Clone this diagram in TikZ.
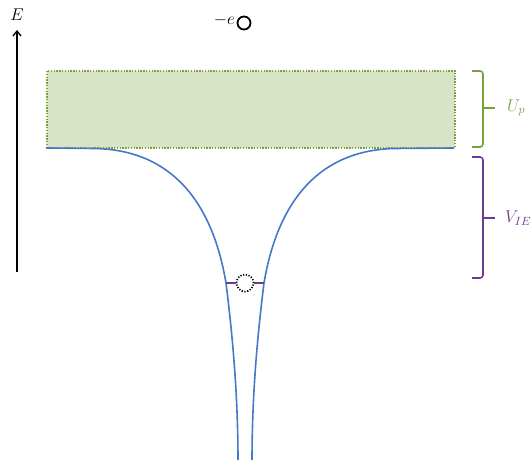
\RequirePackage{fix-cm}
\documentclass[tikz,border=0pt]{standalone}
\usetikzlibrary{arrows.meta}
\definecolor{bandfill}{RGB}{216,228,198}
\definecolor{bandgreen}{RGB}{120,160,60}
\definecolor{curveblue}{RGB}{70,120,200}
\definecolor{ppurple}{RGB}{110,60,140}
\begin{document}
\begin{tikzpicture}[x=1pt,y=-1pt,
  lbl/.style={font=\fontsize{17}{20}\selectfont, inner sep=0pt},
  brace/.style={line width=1.6pt, rounded corners=3pt},
  curve/.style={curveblue, line width=1.6pt}]
\useasboundingbox (0,0) rectangle (531,460);
\clip (0,0) rectangle (531,460);
% energy axis
\coordinate (ab) at (17,272);
\coordinate (at) at (17,30);
\draw[line width=1.3pt, -{Straight Barb[length=5pt,width=8pt]}] (ab) -- (at);
\node[lbl] (E) at (17,15) {$E$};
% free electron
\node[circle, draw, line width=1.8pt, minimum size=13pt, inner sep=0pt] (el) at (244,23) {};
\node[lbl, anchor=east] (me) at (235,20) {$-e$};
% band
\node[draw=bandgreen, fill=bandfill, dash pattern=on 1.4pt off 1.4pt, line width=1.6pt, minimum width=408pt, minimum height=77pt, inner sep=0pt, anchor=north west] (band) at (46,70) {};
% potential curve
\draw[curve] (46,148) -- (95,148.5) .. controls (170,150) and (212,200) .. (226,283) .. controls (233.5,343) and (238,400) .. (238,462);
\draw[curve] (454,148) -- (395,148.5) .. controls (320,150) and (278,200) .. (264,283) .. controls (256.5,343) and (252,400) .. (252,462);
% bound electron
\node[circle, draw, dash pattern=on 1.2pt off 1.6pt, line width=1.7pt, minimum size=17pt, inner sep=0pt] (be) at (245,283) {};
\coordinate (lw) at (226,283);
\coordinate (rw) at (264,283);
\draw[ppurple, line width=1.2pt] (lw) -- (be.west);
\draw[ppurple, line width=1.2pt] (be.east) -- (rw);
% braces
\draw[brace, bandgreen] (472,71) -- (483,71) -- (483,147) -- (472,147);
\coordinate (gm) at (483,108);
\coordinate (gt) at (495,108);
\draw[bandgreen, line width=1.6pt] (gm) -- (gt);
\node[lbl, anchor=west, text=bandgreen] (Up) at (507,108) {$U_p$};
\draw[brace, ppurple] (472,157) -- (483,157) -- (483,278) -- (472,278);
\coordinate (pm) at (483,218);
\coordinate (pt) at (495,218);
\draw[ppurple, line width=1.6pt] (pm) -- (pt);
\node[lbl, anchor=west, text=ppurple] (VIE) at (505,218) {$V_{IE}$};
\end{tikzpicture}
\end{document}
